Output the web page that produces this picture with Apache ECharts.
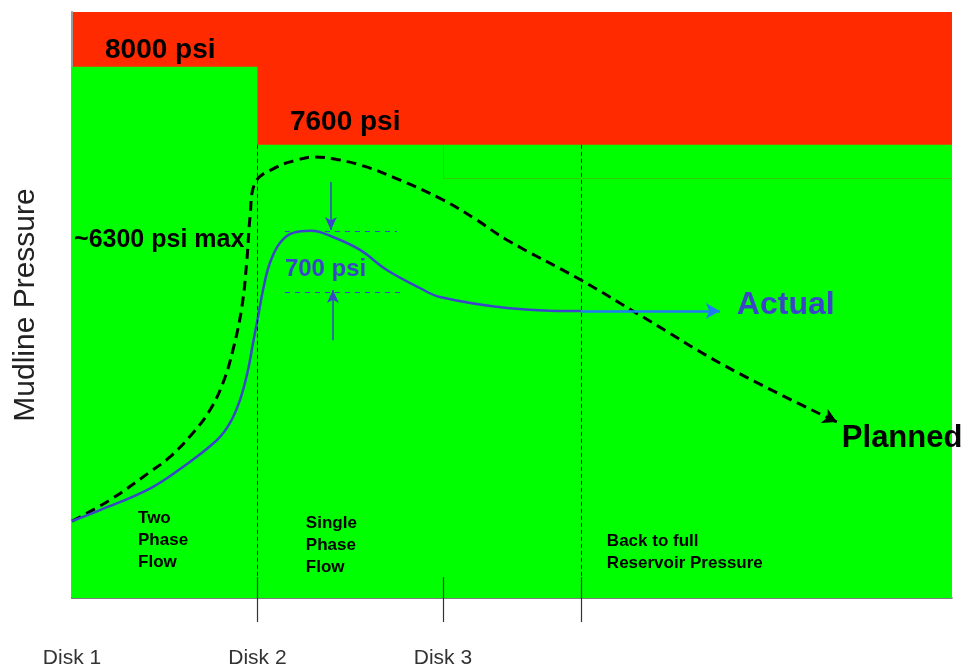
<!DOCTYPE html>
<html><head><meta charset="utf-8">
<script src="https://cdn.jsdelivr.net/npm/echarts@6/dist/echarts.min.js"></script>
<style>html,body{margin:0;padding:0;background:#fff}#c{width:966px;height:671px}</style>
</head><body><div id="c"></div>
<script>
// ---- data ----
const xLabelValues = [1, 2, 3];
const xLabels = ['Disk 1', 'Disk 2', 'Disk 3'];
const xTickValues = [2, 3, 3.745];
const xMin = 1, xMax = 5.745;
const yMin = 5280, yMax = 8280;

const limitZoneStart = [1, 2];
const limitZoneEnd = [2, 5.745];
const limitPsi = [8000, 7600];

const plannedX = [1.000, 1.205, 1.420, 1.528, 1.652, 1.744, 1.814, 1.868, 1.916, 1.943, 1.960, 1.987, 2.105, 2.213, 2.299, 2.400, 2.553, 2.730, 3.000, 3.183, 3.345, 3.744, 4.078, 4.531, 5.124];
const plannedY = [5674, 5782, 5925, 6002, 6125, 6242, 6381, 6550, 6770, 7010, 7231, 7405, 7487, 7522, 7538, 7530, 7497, 7435, 7318, 7215, 7113, 6908, 6719, 6463, 6181];

const actualX = [1.000, 1.151, 1.420, 1.598, 1.782, 1.852, 1.906, 1.949, 1.976, 2.003, 2.030, 2.067, 2.121, 2.191, 2.290, 2.407, 2.553, 2.698, 2.876, 2.984, 3.345, 3.701, 3.744];
const actualY = [5674, 5730, 5840, 5951, 6089, 6176, 6294, 6447, 6585, 6719, 6857, 6995, 7097, 7149, 7160, 7128, 7062, 6959, 6867, 6821, 6765, 6749, 6749];
const actualTrendEndX = 4.493;

const peakBandY = [7159, 6847];
const peakBandX0 = [2.148, 2.148];
const peakBandX1 = [2.752, 2.795];
const peakArrowX = [2.396, 2.407];
const peakArrowFrom = [7410, 6600];
const peakArrowTo = [7164, 6857];

const zoneBreakX = 3;
const zoneBreakY = 7430;
const phaseLineX = [2, 3.745];

const annotationText = ['8000 psi', '7600 psi', '~6300 psi max', '700 psi', 'Actual', 'Planned', 'Two\nPhase\nFlow', 'Single\nPhase\nFlow', 'Back to full\nReservoir Pressure'];
const annotationX = [1.178, 2.175, 1.011, 2.148, 4.585, 5.151, 1.356, 2.261, 3.884];
const annotationY = [8085, 7717, 7113, 6964, 6780, 6099, 5577, 5551, 5515];

// ---- styles ----
const FONT = '"Liberation Sans", Arial, Helvetica, sans-serif';
const RED = '#FF2A00', GREEN = '#00FF00', BLUE = '#3A46C8', LBLUE = '#1E7CF2';
const annStyles = [
  {fontSize: 28, color: '#000'},
  {fontSize: 28, color: '#000'},
  {fontSize: 25, color: '#000'},
  {fontSize: 24, color: BLUE},
  {fontSize: 32, color: BLUE},
  {fontSize: 31, color: '#000'},
  {fontSize: 17, color: '#000', lineHeight: 22},
  {fontSize: 17, color: '#000', lineHeight: 22},
  {fontSize: 17, color: '#000', lineHeight: 22}
];

const zip = (xs, ys) => xs.map((x, i) => [x, ys[i]]);
const seg = (a, b) => [{coord: a}, {coord: b}];

const chart = echarts.init(document.getElementById('c'), null, {renderer: 'canvas'});
const tickInnerTop = 5387;

chart.setOption({
  animation: false,
  backgroundColor: '#fff',
  textStyle: {fontFamily: FONT},
  grid: {left: 72, right: 14, top: 12, bottom: 73, show: true, backgroundColor: RED, borderWidth: 0},
  xAxis: {
    type: 'value', min: xMin, max: xMax,
    splitLine: {show: false},
    axisLine: {show: true, onZero: false, lineStyle: {color: '#555', width: 1.5}},
    axisTick: {show: true, customValues: xTickValues, length: 24, lineStyle: {color: '#333', width: 1.2}},
    axisLabel: {show: true, customValues: xLabelValues, margin: 50, fontSize: 21, color: '#333', fontFamily: FONT,
      formatter: v => xLabels[xLabelValues.indexOf(v)] || ''}
  },
  yAxis: {
    type: 'value', min: yMin, max: yMax,
    name: 'Mudline Pressure', nameLocation: 'middle', nameGap: 31, nameRotate: 90,
    nameTextStyle: {fontSize: 30, color: '#222', fontFamily: FONT},
    splitLine: {show: false},
    axisLine: {show: true, lineStyle: {color: '#9a9a9a', width: 2}},
    axisTick: {show: false}, axisLabel: {show: false}
  },
  series: [
    {
      type: 'line', data: [], z: 1, silent: true,
      markArea: {silent: true, itemStyle: {color: GREEN, opacity: 1},
        data: limitPsi.map((p, i) => [{coord: [limitZoneStart[i], yMin]}, {coord: [limitZoneEnd[i], p]}])}
    },
    {
      type: 'line', data: [], z: 2, silent: true,
      markLine: {silent: true, symbol: ['none', 'none'], label: {show: false},
        lineStyle: {color: 'rgba(150,110,0,0.35)', width: 1, type: 'solid'},
        data: [seg([zoneBreakX, limitPsi[1]], [zoneBreakX, zoneBreakY]), seg([zoneBreakX, zoneBreakY], [xMax, zoneBreakY])]}
    },
    {
      type: 'line', data: [], z: 2, silent: true,
      markLine: {silent: true, symbol: ['none', 'none'], label: {show: false},
        lineStyle: {color: '#111', width: 1, type: [4, 3]},
        data: phaseLineX.map(x => seg([x, limitPsi[1]], [x, yMin]))}
    },
    {
      type: 'line', data: [], z: 2, silent: true,
      markLine: {silent: true, symbol: ['none', 'none'], label: {show: false},
        lineStyle: {color: '#333', width: 1.2, type: 'solid'},
        data: xTickValues.map(x => seg([x, tickInnerTop], [x, yMin]))}
    },
    {
      name: 'Planned', type: 'line', z: 3, data: zip(plannedX, plannedY),
      smooth: 0.4, showSymbol: false, symbol: 'none',
      lineStyle: {color: '#000', width: 3, type: [10, 6]},
      markLine: {silent: true, symbol: ['none', 'arrow'], symbolSize: [12, 14], label: {show: false},
        lineStyle: {color: '#000', width: 3, type: 'solid'},
        data: [seg([5.10, 6192], [plannedX[plannedX.length - 1], plannedY[plannedY.length - 1]])]}
    },
    {
      name: 'Actual', type: 'line', z: 4, data: zip(actualX, actualY),
      smooth: 0.4, showSymbol: false, symbol: 'none',
      lineStyle: {color: BLUE, width: 2.5}
    },
    {
      type: 'line', data: [], z: 4, silent: true,
      markLine: {silent: true, symbol: ['none', 'arrow'], symbolSize: [12, 14], label: {show: false},
        lineStyle: {color: LBLUE, width: 2.5, type: 'solid'},
        data: [seg([actualX[actualX.length - 1], actualY[actualY.length - 1]], [actualTrendEndX, actualY[actualY.length - 1]])]}
    },
    {
      type: 'line', data: [], z: 4, silent: true,
      markLine: {silent: true, symbol: ['none', 'arrow'], symbolSize: [9, 13], label: {show: false},
        lineStyle: {color: BLUE, width: 1.5, type: 'solid'},
        data: peakArrowX.map((x, i) => seg([x, peakArrowFrom[i]], [x, peakArrowTo[i]]))}
    },
    {
      type: 'line', data: [], z: 4, silent: true,
      markLine: {silent: true, symbol: ['none', 'none'], label: {show: false},
        lineStyle: {color: BLUE, width: 1, type: [5, 5]},
        data: peakBandY.map((y, i) => seg([peakBandX0[i], y], [peakBandX1[i], y]))}
    },
    {
      type: 'scatter', z: 6, silent: true, symbolSize: 0, itemStyle: {color: 'transparent', opacity: 1},
      data: annotationText.map((t, i) => ({
        value: [annotationX[i], annotationY[i]],
        label: Object.assign({show: true, formatter: t, position: 'right', distance: 0, align: 'left', verticalAlign: 'middle',
          fontWeight: 'bold', fontFamily: FONT, opacity: 1, textBorderWidth: 0, textBorderColor: 'transparent', textShadowBlur: 0}, annStyles[i])
      }))
    }
  ]
});
</script></body></html>
